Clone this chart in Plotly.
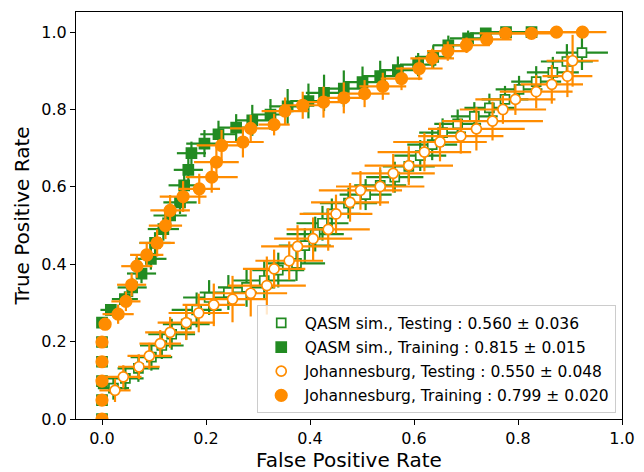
import plotly.graph_objects as go

# ---------------- data ----------------
# QASM sim., Testing (open green squares)
qasm_test_fpr = [0.022,0.045,0.070,0.095,0.115,0.134,0.162,0.182,0.206,0.243,0.278,0.312,0.339,0.374,0.390,0.410,0.424,0.442,0.474,0.507,0.535,0.563,0.590,0.612,0.635,0.655,0.684,0.716,0.745,0.775,0.802,0.835,0.867,0.894,0.923]
qasm_test_tpr = [0.080,0.105,0.131,0.160,0.190,0.219,0.245,0.282,0.314,0.327,0.340,0.358,0.385,0.402,0.448,0.478,0.506,0.530,0.558,0.580,0.604,0.625,0.653,0.681,0.709,0.740,0.763,0.782,0.804,0.826,0.852,0.872,0.896,0.924,0.947]
qasm_test_fpr_err = [0.030,0.035,0.040,0.040,0.042,0.045,0.045,0.048,0.050,0.055,0.055,0.060,0.050,0.055,0.050,0.055,0.050,0.055,0.055,0.050,0.050,0.055,0.050,0.050,0.048,0.045,0.045,0.045,0.048,0.045,0.045,0.048,0.050,0.050,0.050]
qasm_test_tpr_err = [0.030,0.030,0.035,0.035,0.035,0.040,0.040,0.045,0.045,0.045,0.050,0.050,0.045,0.045,0.045,0.045,0.045,0.040,0.040,0.040,0.040,0.040,0.040,0.040,0.040,0.037,0.037,0.037,0.037,0.035,0.035,0.040,0.040,0.045,0.045]

# QASM sim., Training (filled green squares)
qasm_train_fpr = [0.000,0.000,0.000,0.000,0.000,0.000,0.017,0.044,0.058,0.076,0.094,0.102,0.118,0.131,0.150,0.158,0.166,0.172,0.197,0.224,0.258,0.289,0.324,0.357,0.397,0.427,0.465,0.501,0.535,0.569,0.608,0.637,0.666,0.704,0.738,0.777,0.826]
qasm_train_tpr = [0.000,0.049,0.098,0.148,0.199,0.249,0.282,0.310,0.340,0.376,0.414,0.455,0.491,0.526,0.560,0.604,0.644,0.687,0.712,0.736,0.753,0.772,0.787,0.808,0.822,0.843,0.854,0.871,0.886,0.902,0.916,0.936,0.966,0.984,0.997,1.000,1.000]
qasm_train_fpr_err = [0.000,0.000,0.000,0.000,0.000,0.000,0.020,0.025,0.028,0.028,0.030,0.030,0.030,0.032,0.032,0.030,0.028,0.028,0.035,0.035,0.035,0.033,0.035,0.035,0.035,0.035,0.035,0.035,0.035,0.035,0.035,0.035,0.030,0.035,0.030,0.035,0.030]
qasm_train_tpr_err = [0.000,0.000,0.000,0.000,0.000,0.000,0.015,0.020,0.025,0.025,0.028,0.028,0.030,0.030,0.030,0.030,0.030,0.030,0.035,0.035,0.035,0.040,0.040,0.045,0.045,0.047,0.047,0.040,0.040,0.035,0.030,0.030,0.025,0.020,0.010,0.005,0.000]

# Johannesburg, Testing (open orange circles)
joh_test_fpr = [0.025,0.041,0.071,0.091,0.112,0.131,0.162,0.186,0.215,0.251,0.286,0.317,0.331,0.360,0.376,0.406,0.435,0.450,0.477,0.497,0.535,0.560,0.590,0.620,0.650,0.690,0.720,0.751,0.771,0.795,0.835,0.865,0.895,0.905]
joh_test_tpr = [0.074,0.109,0.135,0.163,0.195,0.224,0.249,0.274,0.295,0.310,0.325,0.345,0.388,0.409,0.446,0.466,0.490,0.530,0.560,0.591,0.601,0.635,0.655,0.690,0.716,0.731,0.750,0.770,0.800,0.826,0.846,0.865,0.886,0.926]
joh_test_fpr_err = [0.030,0.035,0.040,0.042,0.040,0.048,0.055,0.058,0.060,0.065,0.070,0.075,0.060,0.065,0.070,0.075,0.080,0.070,0.075,0.080,0.085,0.080,0.085,0.090,0.090,0.082,0.093,0.097,0.083,0.077,0.070,0.060,0.048,0.050]
joh_test_tpr_err = [0.030,0.030,0.032,0.034,0.035,0.040,0.045,0.050,0.055,0.060,0.060,0.075,0.050,0.050,0.055,0.055,0.055,0.050,0.050,0.050,0.050,0.050,0.050,0.050,0.050,0.045,0.056,0.050,0.037,0.040,0.043,0.050,0.054,0.067]

# Johannesburg, Training (filled orange circles)
joh_train_fpr = [0.000,0.000,0.000,0.000,0.000,0.006,0.031,0.046,0.057,0.067,0.086,0.106,0.122,0.131,0.156,0.187,0.211,0.220,0.230,0.271,0.286,0.331,0.352,0.386,0.426,0.465,0.505,0.540,0.576,0.610,0.635,0.665,0.701,0.740,0.776,0.826,0.874,0.924]
joh_train_tpr = [0.000,0.049,0.098,0.148,0.199,0.245,0.271,0.304,0.347,0.395,0.424,0.455,0.500,0.539,0.575,0.595,0.625,0.664,0.707,0.716,0.751,0.761,0.796,0.811,0.819,0.830,0.841,0.860,0.880,0.906,0.932,0.951,0.966,0.981,0.997,0.997,1.000,1.000]
joh_train_fpr_err = [0.000,0.000,0.000,0.000,0.000,0.010,0.030,0.028,0.028,0.030,0.032,0.034,0.032,0.038,0.045,0.040,0.050,0.043,0.048,0.040,0.040,0.030,0.045,0.040,0.042,0.045,0.048,0.045,0.040,0.045,0.042,0.040,0.045,0.048,0.050,0.050,0.048,0.046]
joh_train_tpr_err = [0.000,0.000,0.000,0.000,0.000,0.010,0.025,0.025,0.030,0.030,0.030,0.035,0.035,0.040,0.040,0.039,0.040,0.040,0.040,0.040,0.035,0.028,0.035,0.035,0.040,0.040,0.035,0.035,0.030,0.030,0.025,0.025,0.020,0.015,0.005,0.005,0.000,0.000]

labels = [
    "QASM sim., Testing : 0.560 \u00b1 0.036",
    "QASM sim., Training : 0.815 \u00b1 0.015",
    "Johannesburg, Testing : 0.550 \u00b1 0.048",
    "Johannesburg, Training : 0.799 \u00b1 0.020",
]
tick_vals = [0.0, 0.2, 0.4, 0.6, 0.8, 1.0]
tick_text = ["0.0", "0.2", "0.4", "0.6", "0.8", "1.0"]

GREEN = "#228B22"
ORANGE = "#FF8C00"

series = [
    (qasm_test_fpr, qasm_test_tpr, qasm_test_fpr_err, qasm_test_tpr_err, GREEN, "square", "white", 9),
    (qasm_train_fpr, qasm_train_tpr, qasm_train_fpr_err, qasm_train_tpr_err, GREEN, "square", GREEN, 10),
    (joh_test_fpr, joh_test_tpr, joh_test_fpr_err, joh_test_tpr_err, ORANGE, "circle", "white", 10),
    (joh_train_fpr, joh_train_tpr, joh_train_fpr_err, joh_train_tpr_err, ORANGE, "circle", ORANGE, 11.5),
]

fig = go.Figure()
for i, (x, y, ex, ey, col, sym, fill, size) in enumerate(series):
    fig.add_trace(go.Scatter(
        x=x, y=y, mode="markers", name=labels[i], legendgroup=str(i),
        marker=dict(symbol=sym, size=size, color=fill, line=dict(color=col, width=1.7)),
        error_x=dict(type="data", array=ex, symmetric=True, color=col, thickness=2.2, width=0),
        error_y=dict(type="data", array=ey, symmetric=True, color=col, thickness=2.2, width=0),
    ))

axis_common = dict(
    showline=True, linecolor="black", linewidth=1.2, mirror=True,
    ticks="outside", ticklen=5, tickwidth=1.2, tickcolor="black",
    showgrid=False, zeroline=False, automargin=False,
    tickvals=tick_vals, ticktext=tick_text,
    tickfont=dict(size=16, color="black"),
)

fig.update_layout(
    width=644, height=472,
    margin=dict(l=76, r=22, t=12, b=53),
    paper_bgcolor="white", plot_bgcolor="white",
    font=dict(family="DejaVu Sans", color="black"),
    showlegend=True,
    legend=dict(
        x=0.331, y=0.014, xanchor="left", yanchor="bottom",
        bgcolor="rgba(255,255,255,0.8)", bordercolor="#cccccc", borderwidth=1,
        font=dict(size=15.5, color="black"), tracegroupgap=1, itemwidth=37,
    ),
    xaxis=dict(range=[-0.05, 1.0], title=dict(text="False Positive Rate", font=dict(size=20), standoff=4), **axis_common),
    yaxis=dict(range=[0.0, 1.052], title=dict(text="True Positive Rate", font=dict(size=20), standoff=6), **axis_common),
)

fig.write_html("out.html")
